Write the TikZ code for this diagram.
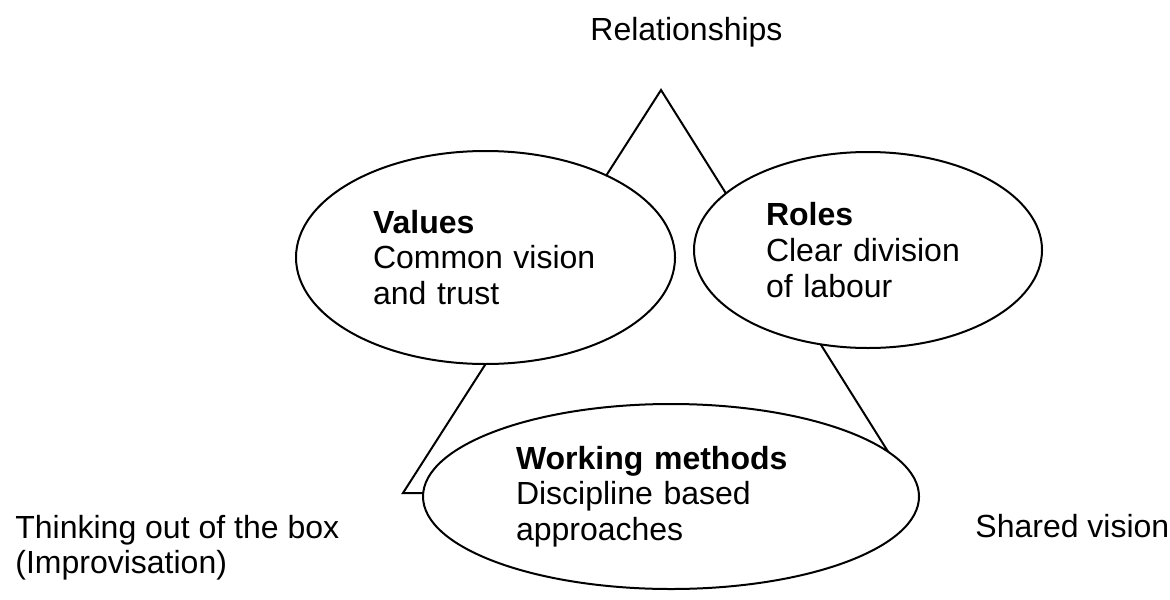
\documentclass[tikz,border=0pt]{standalone}
\usepackage{fontspec}
\setmainfont{Liberation Sans}
\usetikzlibrary{positioning,shapes.geometric}
\tikzstyle{oval} = [ellipse, draw=black, fill=white, line width=1pt, inner sep=0pt, align=left]
\tikzstyle{freetext} = [inner sep=0pt, align=left]

\begin{document}
\begin{tikzpicture}[x=0.5pt, y=-0.5pt, font=\fontsize{16pt}{17.8pt}\selectfont]
			\useasboundingbox (0,0) rectangle (1170,599);
			\coordinate (apex) at (661,90);
			\coordinate (baseleft) at (403,493);
			\coordinate (baseright) at (914,493);
			\draw[line width=1pt] (apex) -- (baseleft) -- (baseright) -- cycle;
			\node[oval, minimum width=189.5pt, minimum height=106.5pt, text width=112.5pt] (values) at (485.5,257.5) {\textbf{Values}\\Common vision\\and trust};
			\node[oval, minimum width=174pt, minimum height=98pt, text width=102pt] (roles) at (868,250) {\textbf{Roles}\\Clear division\\of labour};
			\node[oval, minimum width=248pt, minimum height=92.5pt, text width=155pt] (methods) at (671,496.5) {\textbf{Working methods}\\Discipline based\\approaches};
			\node[freetext, anchor=base west] (relationships) at (590,41) {Relationships};
			\node[freetext, anchor=north west] (thinking) at (15,514.6) {Thinking out of the box\\(Improvisation)};
			\node[freetext, anchor=base west] (shared) at (975,537) {Shared vision};
		\end{tikzpicture}
\end{document}
